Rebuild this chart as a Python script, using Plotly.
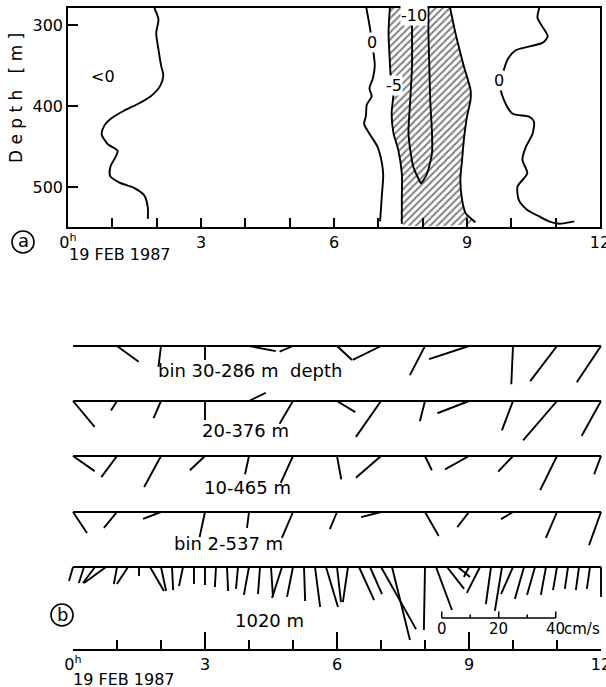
import plotly.graph_objects as go

# ---------------- data ----------------
# Panel (a): isolines (time in hours after 0h 19 Feb 1987, depth in m)
zero_w_t = [1.95, 2.04, 1.99, 2.04, 2.10, 2.15, 2.08, 1.86, 1.55, 1.25, 0.98, 0.82, 0.76, 0.90, 1.12, 1.07, 0.96, 0.95, 1.15, 1.50, 1.72, 1.80, 1.80]
zero_w_d = [279, 293, 310, 330, 350, 362, 375, 388, 398, 406, 415, 424, 435, 447, 455, 463, 474, 486, 494, 501, 510, 525, 539]

zero_m_t = [6.73, 6.80, 6.86, 6.92, 6.88, 6.80, 6.85, 6.74, 6.72, 6.68, 6.80, 6.98, 7.08, 7.11, 7.08, 7.04]
zero_m_d = [279, 300, 322, 350, 365, 378, 388, 398, 412, 422, 434, 450, 470, 485, 510, 542]

m5_w_t = [7.26, 7.23, 7.26, 7.28, 7.34, 7.30, 7.34, 7.45, 7.53, 7.53, 7.53]
m5_w_d = [279, 310, 345, 364, 384, 409, 433, 454, 483, 516, 545]

m5_e_t = [8.62, 8.74, 8.93, 9.08, 9.08, 9.00, 8.93, 8.89, 8.85, 8.89, 8.97, 9.19]
m5_e_d = [279, 310, 351, 380, 392, 413, 441, 466, 491, 516, 532, 543]

m10_t = [7.76, 7.76, 7.76, 7.72, 7.68, 7.72, 7.79, 7.91, 7.96, 8.02, 8.10, 8.21, 8.21, 8.17, 8.15, 8.13, 8.13]
m10_d = [279, 310, 351, 392, 433, 454, 475, 490, 495, 491, 483, 458, 433, 392, 351, 310, 279]

zero_e_t = [10.63, 10.59, 10.70, 10.82, 10.70, 10.10, 9.91, 9.80, 9.72, 9.83, 10.02, 10.40, 10.51, 10.48, 10.33, 10.25, 10.36, 10.14, 10.17, 10.36, 10.63, 10.85, 11.08, 11.42]
zero_e_d = [279, 291, 302, 314, 322, 331, 343, 360, 368, 392, 409, 413, 419, 434, 450, 466, 483, 499, 516, 528, 536, 542, 545, 542]

# Panel (b): current vectors, u east / v north in cm/s
bin_hours = list(range(13))
bin30_u = [None, 7.6, -0.9, 0.0, 9.4, -4.7, 5.3, -9.9, -5.3, -14.0, -0.6, -9.4, -8.5]
bin30_v = [None, -5.5, -7.3, -4.9, -1.8, -2.0, -4.9, -4.9, -10.2, -4.6, -13.4, -12.3, -12.7]
bin20_u = [7.6, -2.1, -2.6, 0.0, 5.9, -4.7, 6.4, -8.8, -1.8, -11.1, -3.9, -11.9, -6.8]
bin20_v = [-9.1, -3.3, -6.0, -6.7, 2.9, -8.0, -3.9, -12.6, -7.1, -4.3, -10.3, -13.8, -12.3]
bin10_u = [7.6, -5.5, -5.9, -5.3, -1.4, -4.3, 1.5, -8.8, 2.4, -8.4, -5.2, -5.9, -2.4]
bin10_v = [-5.3, -7.4, -10.9, -5.0, -6.4, -9.4, -8.2, -7.6, -5.0, -4.7, -5.5, -12.0, -6.4]
bin2_u = [4.9, -4.6, -6.3, -1.9, -0.7, -3.9, -2.5, -7.0, 4.8, -4.1, -4.2, -3.9, -4.2]
bin2_v = [-7.4, -5.6, -2.4, -8.8, -5.6, -9.1, -6.0, -1.8, -8.4, -5.3, -2.5, -9.1, -11.6]

rcm_hours = [i * 0.25 for i in range(49)]
rcm_u = [-1.4, -1.8, -4.2, -7.7, -1.1, -3.9, 0.0, 4.9, 1.8, 0.4, -1.4, 0.0, 0.0, -0.4, 0.4, -0.7,
         -1.8, -0.7, 0.7, -3.5, -2.1, 0.4, 1.8, 4.2, 1.4, -1.8, 5.3, 4.2, 12.3, 6.3, None, None,
         -0.4, 5.6, 6.0, 4.2, -1.8, -4.6, -1.8, -2.5, -4.2, -3.2, -2.8, -1.8, -1.4, -1.1, -1.1, -1.1, 0.0]
rcm_v = [-4.9, -5.6, -5.6, -5.6, -6.0, -6.0, -3.2, -8.4, -8.4, -8.1, -6.7, -6.0, -6.3, -7.0, -8.4, -7.7,
         -9.8, -9.5, -10.5, -10.9, -10.5, -11.9, -14.0, -14.0, -12.3, -12.3, -11.6, -9.5, -21.8, -25.6, None, None,
         -22.1, -15.1, -7.7, -3.5, -3.5, -9.1, -13.0, -15.4, -9.5, -11.2, -9.8, -9.8, -8.1, -7.7, -8.1, -7.7, -10.5]

scale_marks = [0, 10, 20, 30, 40]
hour_ticks = [0, 3, 6, 9, 12]
hour_labels = ["0<sup>h</sup>", "3", "6", "9", "12"]
depth_ticks = [300, 400, 500]
row_labels = ["bin 30-286 m  depth", "20-376 m", "10-465 m", "bin 2-537 m", "1020 m"]

# ---------------- layout geometry (pixels) ----------------
W, H = 606, 687
def px(x):
    return x / W
def py(y):
    return 1 - y / H

A_X0, A_X1, A_Y0, A_Y1 = 68, 600, 8, 227
D_TOP, D_BOT = 279, 549
B_X0, B_X1 = 73, 601
B_TOP, B_AX = 322, 649
PXCM = 2.85                      # pixels per cm/s
PXH = (B_X1 - B_X0) / 12.0       # pixels per hour
KH = PXCM / PXH                  # hours per cm/s
PAD_L, PAD_R = 26, 4
row_px = [346, 401, 456, 512, 567]
row_base = [(B_AX - y) / PXCM for y in row_px]
FONT = "DejaVu Sans"
LW = 1.9

fig = go.Figure()

# ---- panel (a)
fig.add_trace(go.Scatter(
    x=m5_w_t + m5_e_t[::-1], y=m5_w_d + m5_e_d[::-1], mode="lines", fill="toself",
    line=dict(width=0, shape="spline", smoothing=0.6), fillcolor="white",
    fillpattern=dict(shape="/", fgcolor="black", bgcolor="white", size=5, solidity=0.4),
    xaxis="x", yaxis="y", hoverinfo="skip", showlegend=False))

for tt, dd in [(zero_w_t, zero_w_d), (zero_m_t, zero_m_d), (m5_w_t, m5_w_d),
               (m5_e_t, m5_e_d), (m10_t, m10_d), (zero_e_t, zero_e_d)]:
    fig.add_trace(go.Scatter(x=tt, y=dd, mode="lines",
                             line=dict(color="black", width=LW, shape="spline", smoothing=0.7),
                             xaxis="x", yaxis="y", hoverinfo="skip", showlegend=False))

# ---- panel (b)
def sticks(times, u, v, base):
    xs, ys = [], []
    for t, uu, vv in zip(times, u, v):
        if uu is None or vv is None:
            continue
        xs += [t, t + uu * KH, None]
        ys += [base, base + vv, None]
    return xs, ys

# invisible trace so that the time axis of panel (b) is drawn
fig.add_trace(go.Scatter(x=hour_ticks, y=[0] * len(hour_ticks), mode="markers",
                         marker=dict(opacity=0), xaxis="x2", yaxis="y2",
                         hoverinfo="skip", showlegend=False))

rows = [(bin_hours, bin30_u, bin30_v), (bin_hours, bin20_u, bin20_v),
        (bin_hours, bin10_u, bin10_v), (bin_hours, bin2_u, bin2_v),
        (rcm_hours, rcm_u, rcm_v)]
for (times, u, v), base in zip(rows, row_base):
    fig.add_trace(go.Scatter(x=[times[0], times[-1]], y=[base, base], mode="lines",
                             line=dict(color="black", width=LW), xaxis="x3", yaxis="y2",
                             hoverinfo="skip", showlegend=False))
    xs, ys = sticks(times, u, v, base)
    fig.add_trace(go.Scatter(x=xs, y=ys, mode="lines", line=dict(color="black", width=LW),
                             xaxis="x3", yaxis="y2", hoverinfo="skip", showlegend=False,
                             connectgaps=False))

# scale bar
SB_T0 = 8.38
SB_Y = (B_AX - 618) / PXCM
sx = [SB_T0 + s * KH for s in scale_marks]
fig.add_trace(go.Scatter(x=[sx[0], sx[-1]], y=[SB_Y, SB_Y], mode="lines",
                         line=dict(color="black", width=1.5), xaxis="x3", yaxis="y2",
                         hoverinfo="skip", showlegend=False))
tx, ty = [], []
for s, xv in zip(scale_marks, sx):
    ln = (6.5 if s % 20 == 0 else 3.5) / PXCM
    tx += [xv, xv, None]
    ty += [SB_Y, SB_Y + ln, None]
fig.add_trace(go.Scatter(x=tx, y=ty, mode="lines", line=dict(color="black", width=1.5),
                         xaxis="x3", yaxis="y2", hoverinfo="skip", showlegend=False))

annotations = []
for s, xv in zip(scale_marks, sx):
    if s % 20 == 0:
        annotations.append(dict(x=xv, y=py(629), xref="x3", yref="paper",
                                text=str(s), showarrow=False, xanchor="center", yanchor="middle",
                                font=dict(size=15, family=FONT, color="black")))
annotations.append(dict(x=sx[-1] + 0.15, y=py(629), xref="x3", yref="paper", text="cm/s",
                        showarrow=False, xanchor="left", yanchor="middle",
                        font=dict(size=15, family=FONT, color="black")))

# row labels
label_pos = [(156, 370), (200, 430), (202, 487), (172, 543), (233, 620)]
for txt, (lx, ly) in zip(row_labels, label_pos):
    annotations.append(dict(x=px(lx), y=py(ly), xref="paper", yref="paper", text=txt,
                            showarrow=False, xanchor="left", yanchor="middle",
                            font=dict(size=18, family=FONT, color="black")))

# contour labels in panel (a)
clabels = [("&lt;0", 0.80, 364, False), ("0", 6.86, 322, True), ("-5", 7.36, 374, True),
           ("-10", 7.80, 288, True), ("0", 9.72, 368, True)]
for txt, t, d, bg in clabels:
    ann = dict(x=t, y=d, xref="x", yref="y", text=txt, showarrow=False,
               xanchor="center", yanchor="middle", borderpad=0,
               font=dict(size=16, family=FONT, color="black"))
    if bg:
        ann["bgcolor"] = "white"
    annotations.append(ann)

# axis titles / dates
annotations.append(dict(x=px(16), y=py(98), xref="paper", yref="paper",
                        text="D e p t h   [ m ]", textangle=-90, showarrow=False,
                        xanchor="center", yanchor="middle",
                        font=dict(size=17, family=FONT, color="black")))
annotations.append(dict(x=px(67), y=py(255), xref="paper", yref="paper", text="19 FEB 1987",
                        showarrow=False, xanchor="left", yanchor="middle",
                        font=dict(size=16, family=FONT, color="black")))
annotations.append(dict(x=px(71), y=py(679), xref="paper", yref="paper", text="19 FEB 1987",
                        showarrow=False, xanchor="left", yanchor="middle",
                        font=dict(size=16, family=FONT, color="black")))

# circled panel letters
shapes = []
for letter, cx, cy, r in [("a", 23, 242, 11), ("b", 62, 615, 11)]:
    shapes.append(dict(type="circle", xref="paper", yref="paper",
                       x0=px(cx - r), x1=px(cx + r), y0=py(cy + r), y1=py(cy - r),
                       line=dict(color="black", width=1.6)))
    annotations.append(dict(x=px(cx), y=py(cy - 1), xref="paper", yref="paper", text=letter,
                            showarrow=False, xanchor="center", yanchor="middle",
                            font=dict(size=18, family=FONT, color="black")))

axis_font = dict(size=16, family=FONT, color="black")
fig.update_layout(
    width=W, height=H, margin=dict(l=0, r=0, t=0, b=0, autoexpand=False),
    paper_bgcolor="white", plot_bgcolor="rgba(0,0,0,0)",
    showlegend=False,
    xaxis=dict(domain=[px(A_X0), px(A_X1)], range=[0, 12], anchor="y", automargin=False,
               showline=True, mirror=True, linecolor="black", linewidth=1.6,
               ticks="inside", ticklen=9, tickwidth=1.5, tickcolor="black",
               tickvals=list(range(13)),
               ticktext=[hour_labels[hour_ticks.index(h)] if h in hour_ticks else "" for h in range(13)],
               tickfont=axis_font, ticklabeloverflow="allow",
               showgrid=False, zeroline=False, fixedrange=True),
    yaxis=dict(domain=[py(A_Y1), py(A_Y0)], range=[D_BOT, D_TOP], anchor="x", automargin=False,
               showline=True, mirror=True, linecolor="black", linewidth=1.6,
               ticks="inside", ticklen=10, tickwidth=1.5, tickcolor="black",
               tickvals=depth_ticks, tickfont=axis_font, showgrid=False, zeroline=False),
    xaxis2=dict(domain=[px(B_X0), px(B_X1)], range=[0, 12], anchor="y2", automargin=False,
                showline=True, linecolor="black", linewidth=1.8,
                ticks="inside", ticklen=17, tickwidth=1.5, tickcolor="black",
                tickvals=hour_ticks, ticktext=hour_labels, tickfont=axis_font,
                ticklabeloverflow="allow",
                minor=dict(dtick=1, tick0=0, ticks="inside", ticklen=9, tickwidth=1.5, tickcolor="black"),
                showgrid=False, zeroline=False),
    xaxis3=dict(domain=[px(B_X0 - PAD_L), px(B_X1 + PAD_R)],
                range=[-PAD_L / PXH, 12 + PAD_R / PXH],
                anchor="y2", visible=False, automargin=False),
    yaxis2=dict(domain=[py(B_AX), py(B_TOP)], range=[0, (B_AX - B_TOP) / PXCM],
                anchor="x2", visible=False, automargin=False),
    annotations=annotations, shapes=shapes,
)

fig.write_html("out.html")
